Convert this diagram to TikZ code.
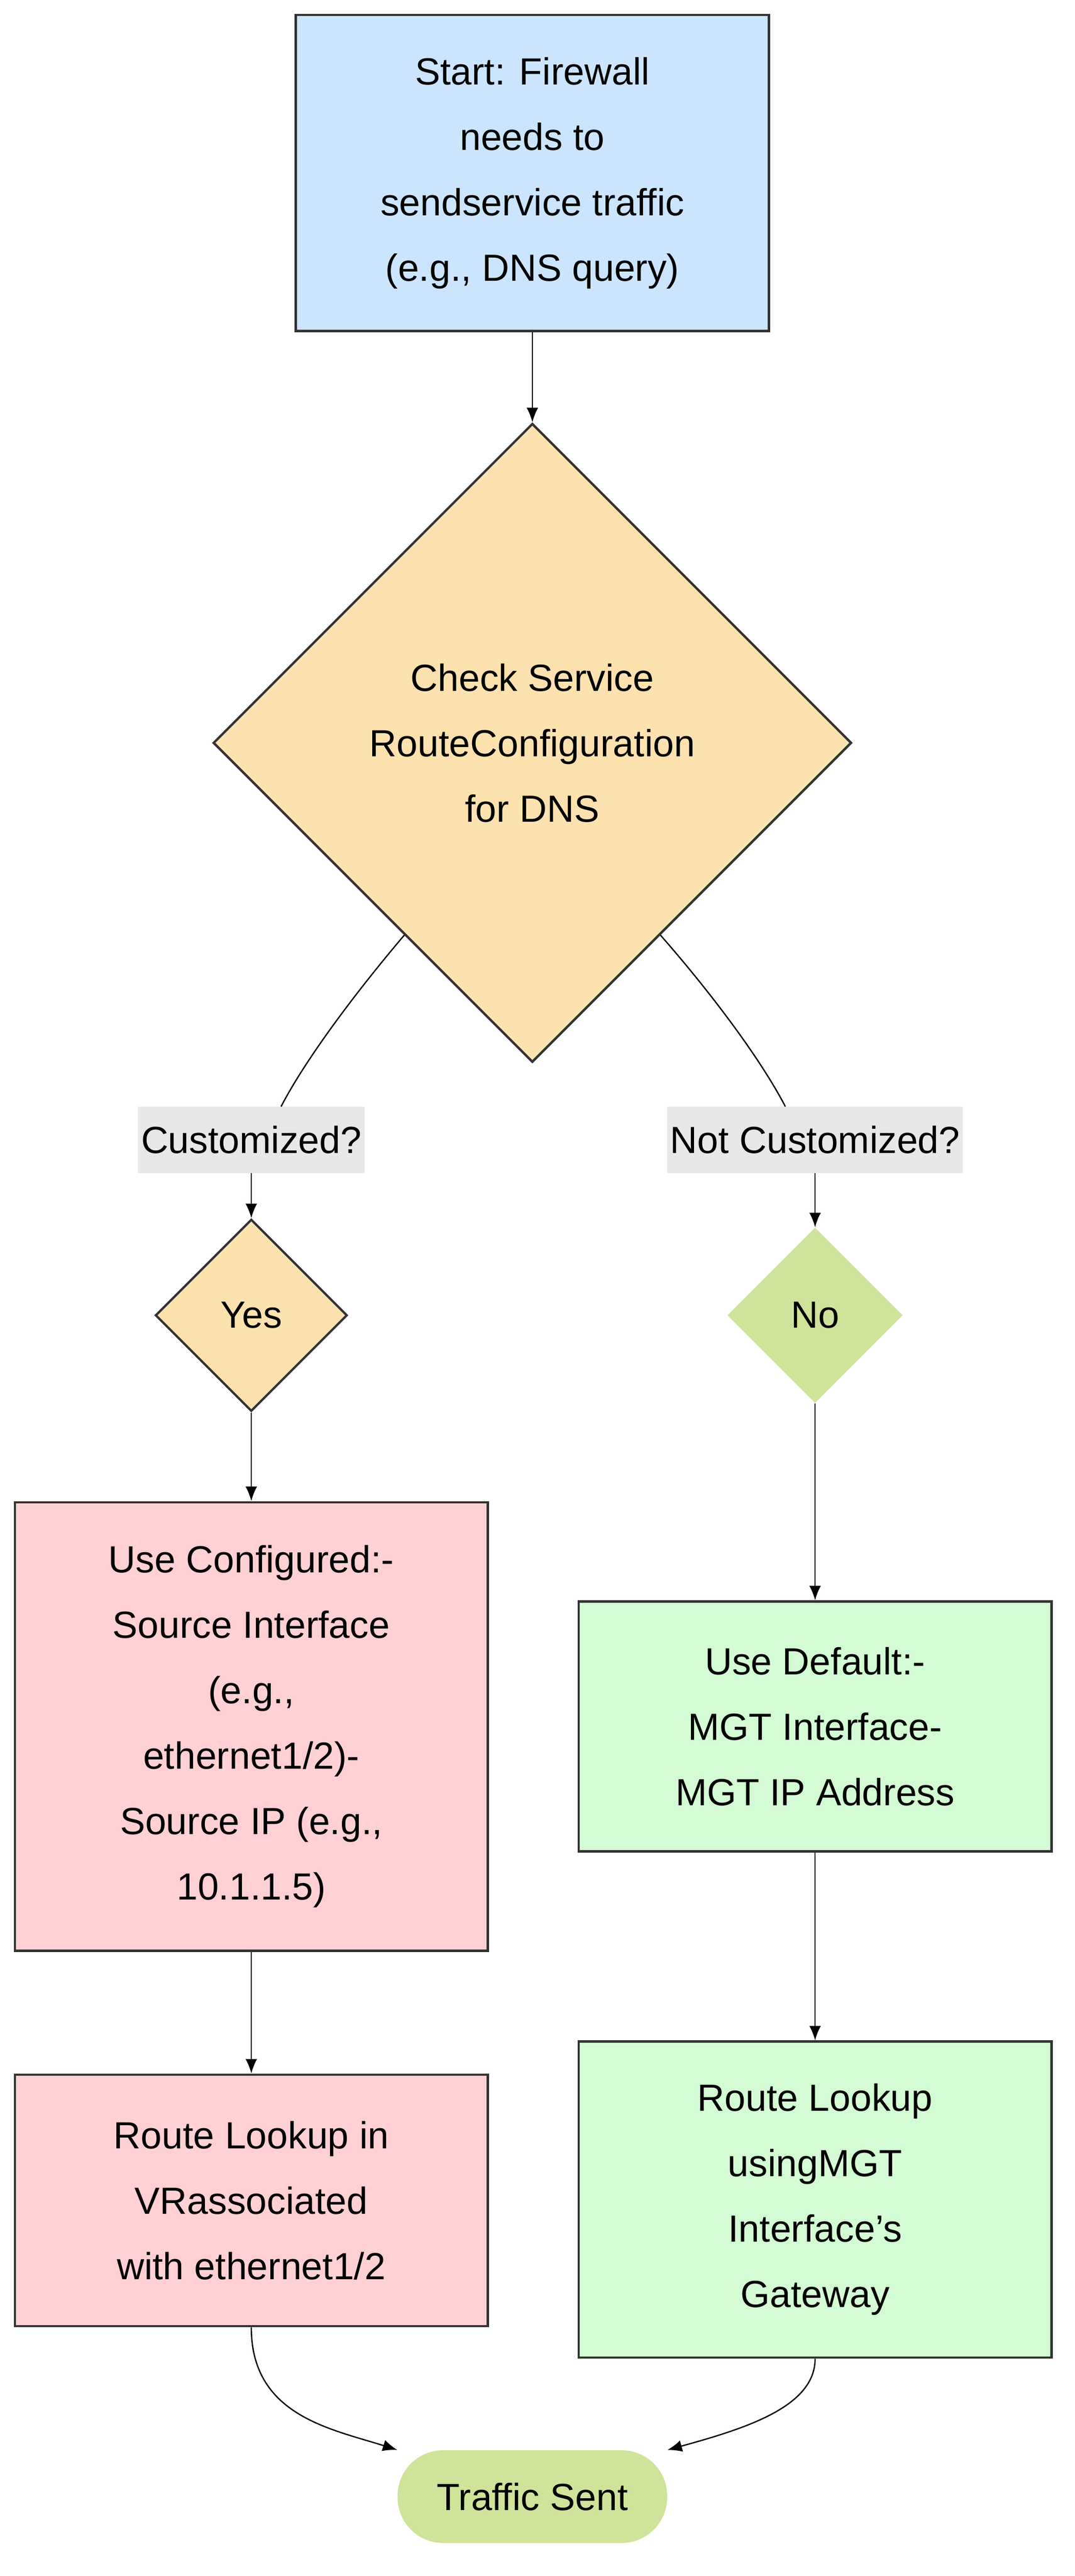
\documentclass[tikz,border=0pt]{standalone}
\usepackage{fontspec}
\setmainfont{Liberation Sans}
\usetikzlibrary{positioning,arrows.meta,shapes.geometric,calc}

\definecolor{startblue}{HTML}{CCE5FF}
\definecolor{decorange}{HTML}{FDE2B0}
\definecolor{nogreen}{HTML}{CFE39A}
\definecolor{cfgpink}{HTML}{FFD0D4}
\definecolor{defgreen}{HTML}{D4FCD4}
\definecolor{edgegray}{HTML}{333333}
\definecolor{lblgray}{HTML}{E8E8E8}

\tikzset{
  base/.style={font=\fontsize{26}{45}\selectfont, align=center, inner sep=0pt},
  box/.style={base, draw=edgegray, line width=1.6pt, rectangle},
  dec/.style={base, draw=edgegray, line width=1.6pt, diamond, fill=decorange},
  lbl/.style={base, fill=lblgray, inner xsep=2pt, minimum height=1.6cm},
  arr/.style={draw=black, line width=0.9pt, -{Latex[length=10pt,width=8pt]}},
  lin/.style={draw=black, line width=0.9pt},
}

\begin{document}
\begin{tikzpicture}[x=0.04cm, y=-0.04cm]
  \useasboundingbox (0,0) rectangle (650,1557);
  %----- nodes -----
  \node[box, fill=startblue, minimum width=11.44cm, minimum height=7.64cm] (start) at (322,104.5)
    {Start: Firewall\\needs to\\sendservice traffic\\ (e.g., DNS query)};
  \node[dec, minimum width=15.44cm, minimum height=15.44cm] (chk) at (322,449)
    {Check Service\\RouteConfiguration\\for DNS};
  \node[lbl] (cust) at (152,689) {Customized?};
  \node[lbl] (ncust) at (493,689) {Not Customized?};
  \node[dec, minimum width=4.64cm, minimum height=4.64cm] (yes) at (152,795) {Yes};
  \node[base, diamond, fill=nogreen, minimum width=4.24cm, minimum height=4.24cm] (no) at (493,795) {No};
  \node[box, fill=cfgpink, minimum width=11.44cm, minimum height=10.84cm] (cfg) at (152,1043.5)
    {Use Configured:-\\Source Interface\\(e.g.,\\ethernet1/2)-\\Source IP (e.g.,\\10.1.1.5)};
  \node[box, fill=defgreen, minimum width=11.44cm, minimum height=6.04cm] (def) at (493,1043.5)
    {Use Default:-\\MGT Interface-\\MGT IP Address};
  \node[box, fill=cfgpink, minimum width=11.44cm, minimum height=6.08cm] (lk1) at (152,1330)
    {Route Lookup in\\VRassociated\\ with ethernet1/2};
  \node[box, fill=defgreen, minimum width=11.44cm, minimum height=7.64cm] (lk2) at (493,1329.5)
    {Route Lookup\\usingMGT\\Interface's\\ Gateway};
  \node[base, rounded corners=1.1cm, fill=nogreen, minimum width=6.52cm, minimum height=2.24cm] (sent) at (322,1509)
    {Traffic Sent};

  %----- connectors -----
  \draw[arr] (start) -- (chk);
  \draw[lin] ($(chk.west)!0.6!(chk.south)$) .. controls (215,600) and (185,640) .. ($(cust.north)+(18,0)$);
  \draw[arr] (cust.south) .. controls (152,715) .. (yes.north);
  \draw[lin] ($(chk.east)!0.6!(chk.south)$) .. controls (430,600) and (460,640) .. ($(ncust.north)+(-18,0)$);
  \draw[arr] (ncust.south) .. controls (493,715) .. (no.north);
  \draw[arr] (yes) -- (cfg);
  \draw[arr] (no) -- (def);
  \draw[arr] (cfg) -- (lk1);
  \draw[arr] (def) -- (lk2);
  \draw[arr] (lk1.south) .. controls (152,1460) and (200,1468) .. ($(sent.north west)+(0,0)$);
  \draw[arr] (lk2.south) .. controls (493,1455) and (450,1468) .. ($(sent.north east)+(0,0)$);
\end{tikzpicture}
\end{document}
